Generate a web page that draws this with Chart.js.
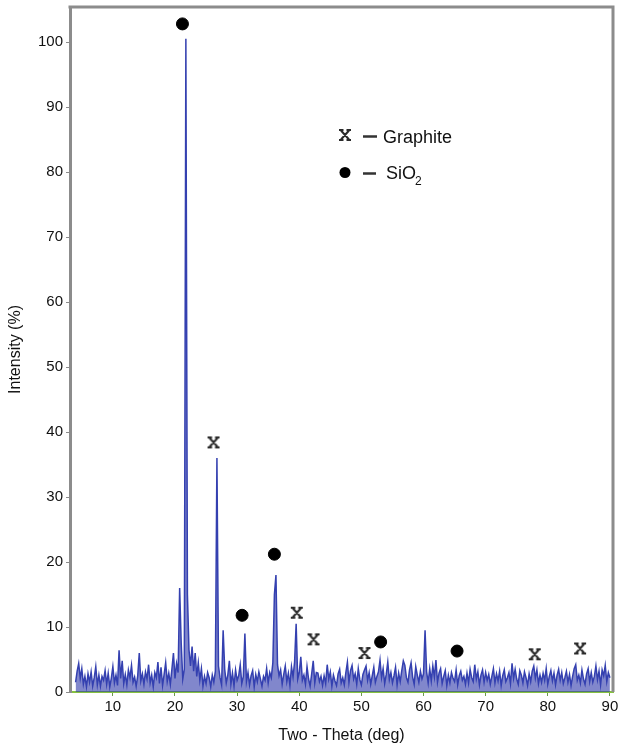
<!DOCTYPE html>
<html>
<head>
<meta charset="utf-8">
<script src="https://cdn.jsdelivr.net/npm/chart.js@4.4.0/dist/chart.umd.min.js"></script>
<style>
  html, body { margin: 0; padding: 0; background: #fff; }
</style>
</head>
<body>
<canvas id="xrd" width="620" height="750"></canvas>
<script>
// measurement grid (deg) and intensity readings (%)
const thetaStart = 4;
const thetaStep = 0.25;
const intensity = [
  1.5, 3.2, 4.4, 2.1,   3.6, 1.2, 2.4, 0.8,   2.8, 1.5, 3.1, 0.9,   2.2, 3.9, 1.1, 2.6,
  0.9, 2.4, 1.8, 3.3,   1.2, 2.9, 0.8, 2.1,   3.9, 1.4, 2.6, 1.0,   6.4, 2.1, 4.8, 1.3,
  2.7, 1.1, 3.4, 2.2,   4.1, 1.5, 2.3, 0.9,   2.5, 6.0, 1.7, 2.8,   1.2, 3.1, 2.0, 4.2,
  1.4, 2.6, 0.8, 3.0,   2.2, 4.6, 1.3, 3.8,   1.0, 2.7, 4.5, 1.6,   2.9, 1.2, 3.5, 6.0,
  2.1, 4.4, 3.0, 16.0,  7.5, 2.0, 3.5, 100.5, 15.0, 6.5, 4.0, 7.0,  3.2, 6.0, 2.4, 4.5,
  1.8, 3.6, 0.9, 2.4,   1.3, 3.0, 2.2, 0.8,   2.6, 1.5, 3.2, 36.0,  4.0, 2.2, 1.1, 9.5,
  3.5, 1.4, 2.6, 4.8,   1.2, 2.9, 0.9, 3.4,   1.8, 2.5, 4.2, 1.3,   2.4, 9.0, 1.6, 3.0,
  1.1, 2.5, 3.3, 0.8,   2.7, 1.6, 3.1, 2.0,   0.9, 2.4, 1.8, 3.6,   1.4, 3.0, 2.2, 4.5,
  15.0, 18.0, 4.2, 2.5, 3.4, 1.2, 2.7, 4.0,   1.6, 2.9, 1.0, 3.9,   2.3, 4.6, 10.5, 2.0,
  3.0, 5.4, 1.8, 2.6,   1.2, 3.9, 2.0, 0.9,   2.8, 4.8, 1.4, 3.0,   2.9, 1.6, 2.4, 1.0,
  2.5, 1.3, 4.2, 2.0,   3.1, 0.9, 2.6, 1.7,   1.0, 2.8, 3.5, 1.4,   2.2, 1.1, 3.0, 4.6,
  1.5, 3.3, 4.1, 2.0,   2.8, 1.2, 3.6, 1.9,   1.1, 2.7, 3.4, 4.0,   1.8, 3.0, 1.2, 2.5,
  3.8, 1.5, 2.4, 3.1,   4.9, 2.2, 3.6, 1.3,   2.7, 4.6, 1.9, 3.0,   1.4, 2.5, 3.8, 1.1,
  2.9, 1.6, 3.3, 4.8,   4.1, 2.2, 1.5, 3.4,   4.5, 2.3, 1.2, 3.9,   2.6, 1.5, 3.2, 2.0,
  2.8, 9.5, 3.1, 1.4,   3.6, 1.7, 4.0, 2.3,   4.9, 1.5, 2.9, 3.6,   1.3, 2.4, 3.3, 1.0,
  2.6, 1.4, 3.0, 2.1,   1.6, 3.4, 1.1, 2.5,   3.2, 1.8, 2.4, 1.2,   2.9, 1.4, 3.5, 2.2,
  1.6, 4.2, 2.0, 3.1,   1.1, 2.6, 3.4, 1.5,   3.0, 1.8, 2.7, 1.2,   2.4, 3.6, 1.4, 2.8,
  1.7, 3.2, 1.0, 2.5,   3.4, 1.6, 2.2, 3.0,   1.3, 4.4, 2.1, 3.5,   2.0, 1.2, 3.3, 2.6,
  1.4, 3.1, 2.2, 1.0,   2.8, 1.6, 3.2, 4.0,   2.1, 3.4, 1.3, 2.6,   1.5, 2.9, 1.8, 3.6,
  1.2, 2.4, 3.3, 1.7,   2.9, 1.1, 2.6, 3.5,   1.8, 3.0, 1.3, 2.2,   3.2, 1.5, 2.7, 1.0,
  2.4, 3.6, 4.2, 1.8,   2.6, 1.4, 3.4, 2.0,   1.2, 2.8, 3.6, 1.6,   3.0, 1.5, 2.4, 4.0,
  1.9, 3.2, 1.1, 3.4,   2.5, 4.1, 1.6, 3.0,   2.2
];

// phase markers
const sio2Theta = [21.2, 30.8, 36.0, 53.1, 65.4];
const sio2Mark = [102.8, 11.8, 21.2, 7.7, 6.3];
const graphiteTheta = [26.2, 39.6, 42.3, 50.5, 77.9, 85.2];
const graphiteMark = [38.4, 12.2, 8.1, 6.0, 5.8, 6.7];

const xTickLabels = [10, 20, 30, 40, 50, 60, 70, 80, 90];
const yTickLabels = [0, 10, 20, 30, 40, 50, 60, 70, 80, 90, 100];

const spectrum = intensity.map((v, i) => ({ x: thetaStart + i * thetaStep, y: v }));
const sio2Points = sio2Theta.map((t, i) => ({ x: t, y: sio2Mark[i] }));
const graphitePoints = graphiteTheta.map((t, i) => ({ x: t, y: graphiteMark[i] }));

// typewriter style "x" with little serifs, used for graphite
function xGlyph() {
    const c = document.createElement("canvas");
    c.width = 14; c.height = 14;
    const g = c.getContext("2d");
    g.strokeStyle = "#2a2a2a";
    g.lineWidth = 2;
    g.beginPath();
    g.moveTo(3, 2.5); g.lineTo(11, 11.5);
    g.moveTo(11, 2.5); g.lineTo(3, 11.5);
    g.moveTo(1, 2); g.lineTo(5.5, 2);
    g.moveTo(8.5, 2); g.lineTo(13, 2);
    g.moveTo(1, 12); g.lineTo(5.5, 12);
    g.moveTo(8.5, 12); g.lineTo(13, 12);
    g.stroke();
    return c;
}
const xImg = xGlyph();

const frame = {
    id: "frame",
    afterDraw(chart) {
        const { ctx, chartArea: a } = chart;
        ctx.save();
        ctx.strokeStyle = "#8c8c8c";
        ctx.lineWidth = 3;
        ctx.beginPath();
        ctx.moveTo(a.left - 1.5, a.top);
        ctx.lineTo(a.right, a.top);
        ctx.lineTo(a.right, a.bottom);
        ctx.stroke();

        // legend
        ctx.drawImage(xImg, 338, 128);
        ctx.fillStyle = "#000";
        ctx.beginPath();
        ctx.arc(345, 172.5, 5.5, 0, Math.PI * 2);
        ctx.fill();
        ctx.strokeStyle = "#333";
        ctx.lineWidth = 2.5;
        ctx.beginPath();
        ctx.moveTo(363, 136.5); ctx.lineTo(377, 136.5);
        ctx.moveTo(363, 173.5); ctx.lineTo(376, 173.5);
        ctx.stroke();
        ctx.fillStyle = "#111";
        ctx.textBaseline = "middle";
        ctx.font = "18px 'Liberation Sans'";
        ctx.fillText("Graphite", 383, 138);
        ctx.fillText("SiO", 386, 174);
        ctx.font = "12px 'Liberation Sans'";
        ctx.fillText("2", 415, 182);
        ctx.restore();
    }
};

new Chart(document.getElementById("xrd"), {
    type: "line",
    data: {
        datasets: [
            {
                label: "SiO2",
                data: sio2Points,
                showLine: false,
                pointStyle: "circle",
                pointRadius: 6,
                pointBackgroundColor: "#000",
                pointBorderColor: "#000",
                order: 0
            },
            {
                label: "Graphite",
                data: graphitePoints,
                showLine: false,
                pointStyle: xImg,
                order: 0
            },
            {
                label: "Spectrum",
                data: spectrum,
                borderColor: "#3440b0",
                backgroundColor: "rgba(45, 55, 170, 0.6)",
                fill: "origin",
                borderWidth: 1.5,
                pointRadius: 0,
                tension: 0,
                order: 1
            }
        ]
    },
    options: {
        responsive: false,
        animation: false,
        devicePixelRatio: 1,
        layout: { padding: { top: 5, right: 5, left: 0, bottom: 0 } },
        plugins: { legend: { display: false }, tooltip: { enabled: false } },
        scales: {
            x: {
                type: "linear",
                min: 3.1,
                max: 90.5,
                afterBuildTicks: s => { s.ticks = xTickLabels.map(v => ({ value: v })); },
                afterFit: s => { s.height = 58; s.paddingLeft = 0; s.paddingRight = 0; },
                ticks: { color: "#111", font: { family: "Liberation Sans", size: 15 }, padding: 2, maxRotation: 0 },
                grid: { drawOnChartArea: false, tickLength: 4, color: "#6a9a4a" },
                border: { color: "#86c140", width: 2 },
                title: {
                    display: true,
                    text: "Two - Theta (deg)",
                    color: "#111",
                    font: { family: "Liberation Sans", size: 16 },
                    padding: { top: 0, bottom: 5 }
                }
            },
            y: {
                min: 0,
                max: 105.4,
                afterBuildTicks: s => { s.ticks = yTickLabels.map(v => ({ value: v })); },
                afterFit: s => { s.width = 70; s.paddingTop = 0; s.paddingBottom = 0; },
                ticks: { color: "#111", font: { family: "Liberation Sans", size: 15 }, padding: 3 },
                grid: { drawOnChartArea: false, tickLength: 4, color: "#8c8c8c" },
                border: { color: "#8c8c8c", width: 3 },
                title: {
                    display: true,
                    text: "Intensity (%)",
                    color: "#111",
                    font: { family: "Liberation Sans", size: 16 },
                    padding: { top: 6, bottom: 0 }
                }
            }
        }
    },
    plugins: [frame]
});
</script>
</body>
</html>
